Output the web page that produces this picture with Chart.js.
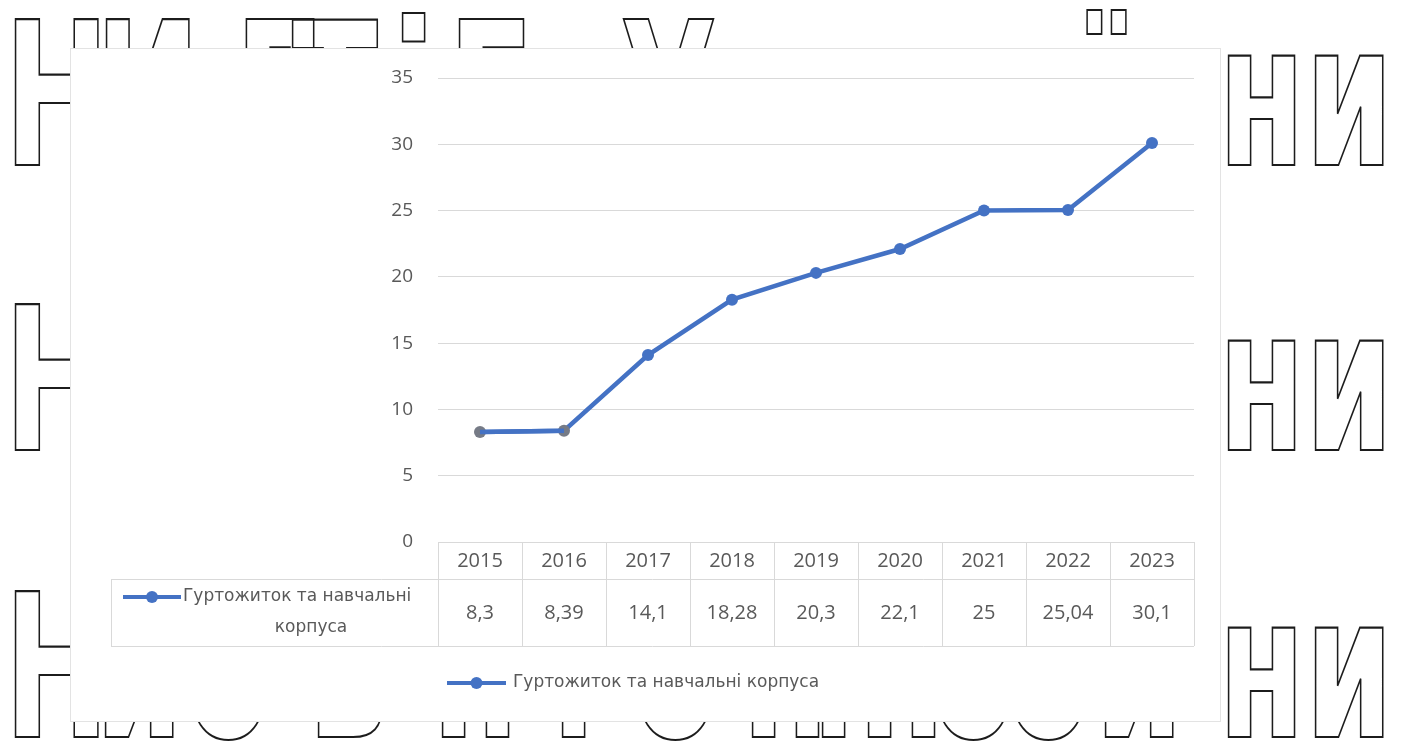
<!DOCTYPE html>
<html lang="uk">
<head>
<meta charset="utf-8">
<title>Гуртожиток та навчальні корпуса</title>
<script src="https://cdn.jsdelivr.net/npm/chart.js@4.4.1/dist/chart.umd.min.js"></script>
<style>
  html, body { margin: 0; padding: 0; background: #fff; width: 1407px; height: 742px; overflow: hidden; }
  .bg { position: absolute; left: 0; top: 0; width: 1407px; height: 742px; overflow: hidden; }
  .g {
    position: absolute;
    font-family: "DejaVu Sans Condensed", "DejaVu Sans", sans-serif;
    font-weight: bold;
    font-size: 200px;
    line-height: 1;
    color: transparent;
    -webkit-text-stroke: 2.2px #1c1c1c;
    transform: scaleX(0.7);
    transform-origin: left top;
    white-space: pre;
  }
  .box {
    position: absolute; left: 70px; top: 48px; width: 1151px; height: 674px;
    background: #fff; border: 1px solid #e3e3e3; box-sizing: border-box;
  }
  .box canvas { position: absolute; left: 0; top: 0; }
</style>
</head>
<body>
<div class="bg">
  <!-- row 1, baseline 165 -->
  <span class="g" style="left:4px;top:-4px">Н</span>
  <span class="g" style="left:95px;top:-4px">И</span>
  <span class="g" style="left:222px;top:-4px">Д</span>
  <span class="g" style="left:292px;top:-4px">Т</span>
  <span class="g" style="left:392px;top:-4px">і</span>
  <span class="g" style="left:448px;top:-4px">Е</span>
  <span class="g" style="left:620px;top:-4px">У</span>
  <span class="g" style="left:1085px;top:-4px">ї</span>
  <span class="g" style="left:1218px;top:-4px">ни</span>
  <!-- row 2, baseline 450 -->
  <span class="g" style="left:4px;top:281px">Н</span>
  <span class="g" style="left:1218px;top:281px">ни</span>
  <!-- row 3, baseline 737 -->
  <span class="g" style="left:4px;top:568px">Н</span>
  <span class="g" style="left:95px;top:568px">и</span>
  <span class="g" style="left:185px;top:568px">о</span>
  <span class="g" style="left:308px;top:568px">в</span>
  <span class="g" style="left:432px;top:568px">н</span>
  <span class="g" style="left:552px;top:568px">і</span>
  <span class="g" style="left:632px;top:568px">о</span>
  <span class="g" style="left:742px;top:568px">н</span>
  <span class="g" style="left:812px;top:568px">і</span>
  <span class="g" style="left:858px;top:568px">н</span>
  <span class="g" style="left:930px;top:568px">о</span>
  <span class="g" style="left:1005px;top:568px">о</span>
  <span class="g" style="left:1095px;top:568px">и</span>
  <span class="g" style="left:1218px;top:568px">ни</span>
</div>

<div class="box">
  <canvas id="chart" width="1151" height="674"></canvas>
</div>

<script>
const years = ['2015', '2016', '2017', '2018', '2019', '2020', '2021', '2022', '2023'];
const seriesName = 'Гуртожиток та навчальні корпуса';
const seriesLabelLines = ['Гуртожиток та навчальні', 'корпуса'];
const values = [8.3, 8.39, 14.1, 18.28, 20.3, 22.1, 25, 25.04, 30.1];
const yTicks = [0, 5, 10, 15, 20, 25, 30, 35];

const BLUE = '#4472C4';
const TEXT = '#595959';
const GRID = '#d9d9d9';
const NUM_FONT = '20px "Open Sans", sans-serif';
const LABEL_FONT = '17px "DejaVu Sans", sans-serif';

const fmt = v => String(v).replace('.', ',');

function legendKey(ctx, x1, x2, y) {
  ctx.save();
  ctx.strokeStyle = BLUE;
  ctx.lineWidth = 4;
  ctx.beginPath();
  ctx.moveTo(x1, y);
  ctx.lineTo(x2, y);
  ctx.stroke();
  ctx.fillStyle = BLUE;
  ctx.beginPath();
  ctx.arc((x1 + x2) / 2, y, 6, 0, Math.PI * 2);
  ctx.fill();
  ctx.restore();
}

// data table under the plot + legend at the bottom
const dataTable = {
  id: 'dataTable',
  afterDatasetsDraw(chart) {
    // the line runs over the first two (grey) markers
    const pts = chart.getDatasetMeta(0).data;
    const ctx = chart.ctx;
    ctx.save();
    ctx.strokeStyle = BLUE;
    ctx.lineWidth = 4.5;
    ctx.beginPath();
    ctx.moveTo(pts[0].x, pts[0].y);
    ctx.lineTo(pts[1].x, pts[1].y);
    ctx.stroke();
    ctx.restore();
  },
  afterDraw(chart) {
    const ctx = chart.ctx;
    const area = chart.chartArea;
    const xs = chart.scales.x;
    const colW = (area.right - area.left) / years.length;
    const top = area.bottom;
    const mid = top + 37;
    const bottom = mid + 67;
    const leftEdge = 40;

    ctx.save();
    ctx.strokeStyle = GRID;
    ctx.lineWidth = 1;
    ctx.beginPath();
    ctx.moveTo(leftEdge, mid + 0.5);
    ctx.lineTo(area.right, mid + 0.5);
    ctx.moveTo(leftEdge, bottom + 0.5);
    ctx.lineTo(area.right, bottom + 0.5);
    for (let i = 0; i <= years.length; i++) {
      const x = Math.round(area.left + i * colW) + 0.5;
      ctx.moveTo(x, top);
      ctx.lineTo(x, bottom);
    }
    ctx.moveTo(leftEdge + 0.5, mid);
    ctx.lineTo(leftEdge + 0.5, bottom);
    ctx.stroke();

    ctx.fillStyle = TEXT;
    ctx.font = NUM_FONT;
    ctx.textAlign = 'center';
    ctx.textBaseline = 'middle';
    years.forEach((yr, i) => {
      const x = xs.getPixelForValue(i);
      ctx.fillText(yr, x, (top + mid) / 2 + 1);
      ctx.fillText(fmt(values[i]), x, (mid + bottom) / 2 + 1);
    });

    // row header with legend key
    legendKey(ctx, 52, 110, mid + 18);
    ctx.font = LABEL_FONT;
    ctx.textAlign = 'left';
    ctx.fillText(seriesLabelLines[0], 112, mid + 18);
    ctx.textAlign = 'center';
    ctx.fillText(seriesLabelLines[1], 240, mid + 49);

    // legend
    const ly = bottom + 37;
    legendKey(ctx, 376, 435, ly);
    ctx.textAlign = 'left';
    ctx.fillText(seriesName, 442, ly);
    ctx.restore();
  }
};

new Chart(document.getElementById('chart').getContext('2d'), {
  type: 'line',
  data: {
    labels: years,
    datasets: [{
      label: seriesName,
      data: values,
      borderColor: BLUE,
      borderWidth: 4.5,
      tension: 0,
      pointRadius: 6,
      pointHoverRadius: 6,
      pointBorderWidth: 0,
      pointBackgroundColor: values.map((v, i) => i < 2 ? '#767b86' : BLUE)
    }]
  },
  options: {
    responsive: false,
    animation: false,
    events: [],
    layout: { padding: { top: 29, right: 28, bottom: 181, left: 0 } },
    plugins: {
      legend: { display: false },
      tooltip: { enabled: false }
    },
    scales: {
      x: {
        display: false,
        offset: true
      },
      y: {
        min: 0,
        max: 35,
        afterBuildTicks: scale => { scale.ticks = yTicks.map(v => ({ value: v })); },
        afterFit: scale => { scale.width = 367; },
        border: { display: false },
        // invisible tick marks push the labels left without adding top padding
        grid: { color: GRID, lineWidth: 1, drawTicks: true, tickLength: 20, tickColor: 'rgba(0,0,0,0)' },
        ticks: {
          color: TEXT,
          font: { family: '"Open Sans", sans-serif', size: 19 },
          padding: 5
        }
      }
    }
  },
  plugins: [dataTable]
});
</script>
</body>
</html>
